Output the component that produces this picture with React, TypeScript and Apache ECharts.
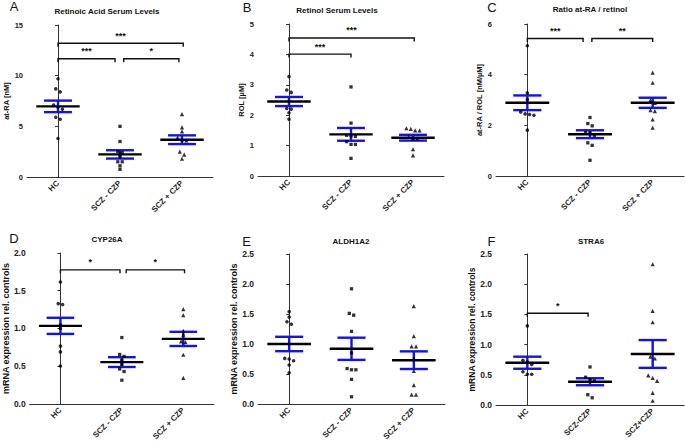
import React, { useEffect, useRef } from "react";
import * as echarts from "echarts";

// ---------- data ----------
const categories = ["HC", "SCZ - CZP", "SCZ + CZP"];
const categoriesF = ["HC", "SCZ-CZP", "SCZ+CZP"];

// A: Retinoic acid (nM)
const raHC = [9.7, 8.7, 8.4, 7.1, 6.9, 6.7, 5.9, 5.7, 3.8];
const raMinus = [5.0, 3.5, 2.5, 2.4, 2.0, 1.5, 1.5, 1.1, 0.75];
const raPlus = [6.2, 4.9, 4.5, 3.9, 3.7, 3.6, 2.5, 2.2, 1.8];
const raMean = [6.97, 2.23, 3.68];
const raSem = [0.57, 0.41, 0.43];

// B: Retinol (µM)
const rolHC = [3.27, 2.83, 2.75, 2.46, 2.22, 2.2, 2.08, 1.87];
const rolMinus = [2.93, 1.74, 1.34, 1.32, 1.3, 1.13, 1.04, 1.04, 0.58];
const rolPlus = [1.57, 1.55, 1.5, 1.5, 1.29, 1.23, 1.23, 0.88, 0.68];
const rolMean = [2.45, 1.37, 1.26];
const rolSem = [0.15, 0.21, 0.095];

// C: Ratio at-RA / ROL
const ratioHC = [5.14, 3.28, 3.02, 2.53, 2.45, 2.43, 2.4, 1.81];
const ratioMinus = [2.31, 2.07, 1.98, 1.72, 1.7, 1.6, 1.31, 1.21, 0.62];
const ratioPlus = [4.08, 3.68, 2.99, 2.89, 2.6, 2.56, 2.23, 1.91];
const ratioMean = [2.89, 1.65, 2.89];
const ratioSem = [0.29, 0.155, 0.2];

// D: CYP26A
const cypHC = [1.615, 1.33, 1.317, 1.05, 1.0, 0.766, 0.69, 0.503];
const cypMinus = [0.88, 0.656, 0.63, 0.578, 0.525, 0.464, 0.43, 0.315];
const cypPlus = [1.256, 1.177, 0.97, 0.92, 0.83, 0.82, 0.652, 0.346];
const cypMean = [1.035, 0.555, 0.862];
const cypSem = [0.107, 0.065, 0.094];

// E: ALDH1A2
const aldHC = [1.54, 1.45, 1.37, 1.33, 0.76, 0.75, 0.72, 0.65, 0.52];
const aldMinus = [1.92, 1.51, 1.48, 1.21, 0.85, 0.59, 0.57, 0.57, 0.41, 0.12];
const aldPlus = [1.63, 1.13, 0.96, 0.96, 0.76, 0.55, 0.315, 0.155, 0.155];
const aldMean = [1.0, 0.92, 0.73];
const aldSem = [0.12, 0.185, 0.147];

// F: STRA6
const straHC = [1.31, 0.74, 0.71, 0.67, 0.55, 0.51, 0.51];
const straMinus = [0.63, 0.46, 0.42, 0.4, 0.17, 0.12];
const straPlus = [2.33, 1.56, 1.37, 0.8, 0.77, 0.49, 0.45, 0.4, 0.2, 0.07];
const straMean = [0.7, 0.385, 0.845];
const straSem = [0.1, 0.058, 0.23];

// significance brackets: [from category, to category, y]
const raBrackets = [
  [0, 2.02, 13.2],
  [0, 0.92, 11.67],
  [1.06, 1.95, 11.67],
];
const raStars = ["***", "***", "*"];
const rolBrackets = [
  [0, 2.02, 4.54],
  [0, 1.0, 4.01],
];
const rolStars = ["***", "***"];
const ratioBrackets = [
  [0, 0.89, 5.43],
  [1.03, 2.0, 5.43],
];
const ratioStars = ["***", "**"];
const cypBrackets = [
  [0, 0.97, 1.777],
  [1.07, 2.02, 1.777],
];
const cypStars = ["*", "*"];
const straBrackets = [[0, 0.97, 1.52]];
const straStars = ["*"];

// ---------- styling / layout ----------
const FONT = "'Liberation Sans', Arial, Helvetica, sans-serif";
const BLUE = "#1212ee";
const symbols = ["circle", "rect", "triangle"];
const symbolSizes = [3.6, 3.3, 4.2];

const panels = [
  {
    letter: "A", title: "Retinoic Acid Serum Levels", yName: "at-RA [nM]",
    yMax: 15, yInt: 5, dec: 0, groups: [raHC, raMinus, raPlus], mean: raMean, sem: raSem,
    brackets: raBrackets, stars: raStars, cats: categories,
    grid: { left: 27, top: 25, width: 186, height: 152 },
    letterPos: [14, 6], titlePos: [107, 11], nameGap: 16, tickFont: 7.5, nameFont: 7.5,
  },
  {
    letter: "B", title: "Retinol Serum Levels", yName: "ROL [µM]",
    yMax: 5, yInt: 1, dec: 0, groups: [rolHC, rolMinus, rolPlus], mean: rolMean, sem: rolSem,
    brackets: rolBrackets, stars: rolStars, cats: categories,
    grid: { left: 258, top: 24, width: 186, height: 152 },
    letterPos: [247, 7], titlePos: [337, 10], nameGap: 13, tickFont: 7.5, nameFont: 7.5,
  },
  {
    letter: "C", title: "Ratio at-RA / retinol", yName: "at-RA / ROL [nM/µM]",
    yMax: 6, yInt: 2, dec: 0, groups: [ratioHC, ratioMinus, ratioPlus], mean: ratioMean, sem: ratioSem,
    brackets: ratioBrackets, stars: ratioStars, cats: categories,
    grid: { left: 496, top: 24, width: 188, height: 152 },
    letterPos: [492, 7.5], titlePos: [590, 9], nameGap: 12, tickFont: 7.5, nameFont: 7.5,
  },
  {
    letter: "D", title: "CYP26A", yName: "mRNA expression rel. controls",
    yMax: 2, yInt: 0.5, dec: 1, groups: [cypHC, cypMinus, cypPlus], mean: cypMean, sem: cypSem,
    brackets: cypBrackets, stars: cypStars, cats: categories,
    grid: { left: 27, top: 253, width: 187, height: 153 },
    letterPos: [14, 238], titlePos: [107, 239], nameGap: 18, tickFont: 8.5, nameFont: 9,
  },
  {
    letter: "E", title: "ALDH1A2", yName: "mRNA expression rel. controls",
    yMax: 2.5, yInt: 0.5, dec: 1, groups: [aldHC, aldMinus, aldPlus], mean: aldMean, sem: aldSem,
    brackets: [], stars: [], cats: categories,
    grid: { left: 258, top: 254, width: 187, height: 151 },
    letterPos: [246.5, 241], titlePos: [351, 241], nameGap: 11, tickFont: 8.5, nameFont: 9,
  },
  {
    letter: "F", title: "STRA6", yName: "mRNA expression rel. controls",
    yMax: 2.5, yInt: 0.5, dec: 1, groups: [straHC, straMinus, straPlus], mean: straMean, sem: straSem,
    brackets: straBrackets, stars: straStars, cats: categoriesF,
    grid: { left: 496, top: 254, width: 188, height: 151 },
    letterPos: [491.5, 241], titlePos: [591, 241], nameGap: 13, tickFont: 8.5, nameFont: 8.5,
  },
];

// deterministic horizontal spreading of overlapping points (beeswarm-like)
function spread(values: number[], pxPerUnit: number): number[] {
  const idx = values.map((_, i) => i).sort((a, b) => values[b] - values[a]);
  const offs = new Array(values.length).fill(0);
  let group: number[] = [];
  const flush = () => {
    const n = group.length;
    group.forEach((gi, k) => {
      offs[gi] = (k - (n - 1) / 2) * 4.4;
    });
    group = [];
  };
  idx.forEach((i) => {
    if (group.length) {
      const prev = group[group.length - 1];
      if ((values[prev] - values[i]) * pxPerUnit >= 3.4) flush();
    }
    group.push(i);
  });
  flush();
  return offs;
}

function buildOption() {
  const grids: any[] = [];
  const xAxes: any[] = [];
  const yAxes: any[] = [];
  const series: any[] = [];
  const graphics: any[] = [];

  panels.forEach((p, pi) => {
    grids.push({ ...p.grid });
    xAxes.push({
      type: "category",
      gridIndex: pi,
      data: p.cats,
      axisLine: { lineStyle: { color: "#333", width: 1 } },
      axisTick: { alignWithLabel: true, length: 3, lineStyle: { color: "#333" } },
      axisLabel: {
        interval: 0, rotate: 45, margin: 5, fontSize: 8, fontWeight: "bold",
        color: "#222", fontFamily: FONT,
      },
      splitLine: { show: false },
    });
    xAxes.push({ type: "value", gridIndex: pi, min: -0.5, max: 2.5, show: false });
    yAxes.push({
      type: "value",
      gridIndex: pi,
      min: 0,
      max: p.yMax,
      interval: p.yInt,
      name: p.yName,
      nameLocation: "middle",
      nameRotate: 90,
      nameGap: p.nameGap,
      nameTextStyle: { fontSize: p.nameFont, fontWeight: "bold", color: "#111", fontFamily: FONT },
      axisLine: { show: true, lineStyle: { color: "#333", width: 1 } },
      axisTick: { show: true, length: 3, lineStyle: { color: "#333" } },
      axisLabel: {
        margin: 4, fontSize: p.tickFont, fontWeight: "bold", color: "#222", fontFamily: FONT,
        formatter: (v: number) => v.toFixed(p.dec),
      },
      splitLine: { show: false },
    });

    const xIdx = pi * 2 + 1;
    const pxPerUnit = p.grid.height / p.yMax;

    // mean & SEM
    series.push({
      type: "custom",
      xAxisIndex: xIdx,
      yAxisIndex: pi,
      z: 2,
      silent: true,
      data: p.mean.map((m, i) => [i, m, p.sem[i]]),
      renderItem: (params: any, api: any) => {
        const c = api.value(0), m = api.value(1), s = api.value(2);
        const pm = api.coord([c, m]);
        const ph = api.coord([c, m + s]);
        const pl = api.coord([c, m - s]);
        const w = api.size([1, 0])[0];
        const blue = { stroke: BLUE, lineWidth: 2.4 };
        return {
          type: "group",
          children: [
            { type: "line", shape: { x1: pm[0], y1: ph[1], x2: pm[0], y2: pl[1] }, style: blue },
            { type: "line", shape: { x1: pm[0] - 0.225 * w, y1: ph[1], x2: pm[0] + 0.225 * w, y2: ph[1] }, style: blue },
            { type: "line", shape: { x1: pm[0] - 0.225 * w, y1: pl[1], x2: pm[0] + 0.225 * w, y2: pl[1] }, style: blue },
            { type: "line", shape: { x1: pm[0] - 0.35 * w, y1: pm[1], x2: pm[0] + 0.35 * w, y2: pm[1] }, style: { stroke: "#000", lineWidth: 2.4 } },
          ],
        };
      },
    });

    // points
    p.groups.forEach((vals, gi) => {
      const offs = spread(vals, pxPerUnit);
      series.push({
        type: "scatter",
        xAxisIndex: xIdx,
        yAxisIndex: pi,
        z: 3,
        symbol: symbols[gi],
        symbolSize: symbolSizes[gi],
        itemStyle: { color: "#000" },
        silent: true,
        data: vals.map((v, j) => ({ value: [gi, v], symbolOffset: [offs[j], 0] })),
      });
    });

    // brackets
    if (p.brackets.length) {
      series.push({
        type: "custom",
        xAxisIndex: xIdx,
        yAxisIndex: pi,
        z: 4,
        silent: true,
        data: p.brackets,
        renderItem: (params: any, api: any) => {
          const a = api.coord([api.value(0), api.value(2)]);
          const b = api.coord([api.value(1), api.value(2)]);
          const d = 3.5;
          const label = p.stars[params.dataIndex];
          return {
            type: "group",
            children: [
              {
                type: "polyline",
                shape: { points: [[a[0], a[1] + d], [a[0], a[1]], [b[0], b[1]], [b[0], b[1] + d]] },
                style: { stroke: "#111", lineWidth: 1.4, fill: "none" },
              },
              {
                type: "text",
                style: {
                  text: label, x: (a[0] + b[0]) / 2, y: a[1] - 3,
                  align: "center", verticalAlign: "bottom",
                  textAlign: "center", textVerticalAlign: "bottom",
                  font: `bold 9px ${FONT}`, fill: "#111",
                },
              },
            ],
          };
        },
      });
    }

    graphics.push({
      type: "text",
      x: p.letterPos[0], y: p.letterPos[1],
      style: {
        text: p.letter, align: "center", verticalAlign: "middle",
        textAlign: "center", textVerticalAlign: "middle",
        font: `13px ${FONT}`, fill: "#111",
      },
    });
    graphics.push({
      type: "text",
      x: p.titlePos[0], y: p.titlePos[1],
      style: {
        text: p.title, align: "center", verticalAlign: "middle",
        textAlign: "center", textVerticalAlign: "middle",
        font: `bold 8px ${FONT}`, fill: "#111",
      },
    });
  });

  return {
    animation: false,
    backgroundColor: "#fff",
    grid: grids,
    xAxis: xAxes,
    yAxis: yAxes,
    series,
    graphic: graphics,
  };
}

export default function App() {
  const ref = useRef<HTMLDivElement>(null);
  useEffect(() => {
    document.body.style.margin = "0";
    if (!ref.current) return;
    const chart = echarts.init(ref.current, undefined, { renderer: "svg" });
    chart.setOption(buildOption() as any);
    return () => chart.dispose();
  }, []);
  return (
    <div
      ref={ref}
      style={{ position: "absolute", left: 0, top: 0, width: 685, height: 443, background: "#fff" }}
    />
  );
}
